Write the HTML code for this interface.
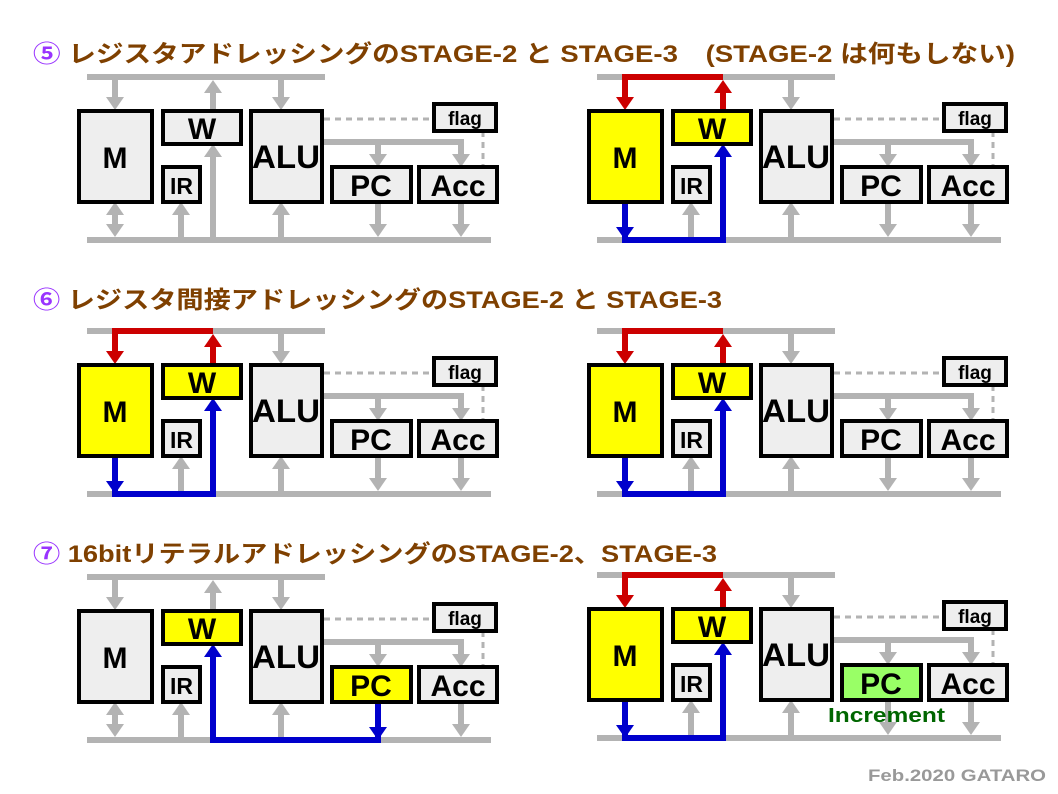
<!DOCTYPE html>
<html><head><meta charset="utf-8"><style>
html,body{margin:0;padding:0;background:#fff}
svg{display:block}
text{font-family:"Liberation Sans","Noto Sans CJK JP",sans-serif;font-weight:bold}
</style></head><body>
<svg width="1058" height="794" viewBox="0 0 1058 794" xmlns="http://www.w3.org/2000/svg">
<defs>
<g id="base">
  <rect x="87" y="74" width="238" height="6" fill="#b3b3b3"/>
  <rect x="87" y="237" width="404" height="6" fill="#b3b3b3"/>
  <g stroke="#b3b3b3" stroke-width="6" fill="none">
    <line x1="281" y1="80" x2="281" y2="99"/>
    <line x1="281" y1="237" x2="281" y2="213"/>
    <line x1="181" y1="237" x2="181" y2="213"/>
    <path d="M322 142 H461 V156"/>
    <line x1="378" y1="142" x2="378" y2="156"/>
    <line x1="461" y1="202" x2="461" y2="226"/>
  </g>
  <g fill="#b3b3b3">
    <polygon points="272,97 290,97 281,110"/>
    <polygon points="272,215 290,215 281,202"/>
    <polygon points="172,215 190,215 181,202"/>
    <polygon points="369,154 387,154 378,167"/>
    <polygon points="452,154 470,154 461,167"/>
    <polygon points="452,224 470,224 461,237"/>
  </g>
  <g stroke="#b3b3b3" stroke-width="3" stroke-dasharray="6,5">
    <line x1="324" y1="119" x2="433" y2="119"/>
    <line x1="483" y1="131" x2="483" y2="167"/>
  </g>
  <g stroke="#000" stroke-width="4" fill="#eeeeee">
    <rect x="251" y="111" width="71" height="91"/>
    <rect x="163" y="167" width="37" height="35"/>
    <rect x="434" y="104" width="62" height="27"/>
    <rect x="419" y="167" width="78" height="35"/>
  </g>
  <text x="286" y="168" font-size="32" text-anchor="middle" textLength="68" lengthAdjust="spacingAndGlyphs">ALU</text>
  <text x="181.5" y="194" font-size="23" text-anchor="middle">IR</text>
  <text x="465" y="125" font-size="19" text-anchor="middle">flag</text>
  <text x="458" y="196" font-size="30" text-anchor="middle">Acc</text>
</g>
<g id="grayM">
  <g stroke="#b3b3b3" stroke-width="6"><line x1="115" y1="80" x2="115" y2="99"/><line x1="115" y1="212" x2="115" y2="227"/></g>
  <g fill="#b3b3b3"><polygon points="106,97 124,97 115,110"/><polygon points="106,215 124,215 115,202"/><polygon points="106,224 124,224 115,237"/></g>
</g>
<g id="grayWtop">
  <line x1="213" y1="110" x2="213" y2="91" stroke="#b3b3b3" stroke-width="6"/>
  <polygon points="204,93 222,93 213,80" fill="#b3b3b3"/>
</g>
<g id="grayPCdown">
  <line x1="378" y1="202" x2="378" y2="226" stroke="#b3b3b3" stroke-width="6"/>
  <polygon points="369,224 387,224 378,237" fill="#b3b3b3"/>
</g>
<g id="redTop">
  <path d="M213 77 H115 V99" stroke="#cc0000" stroke-width="6" fill="none"/>
  <polygon points="106,97 124,97 115,110" fill="#cc0000"/>
  <line x1="213" y1="110" x2="213" y2="91" stroke="#cc0000" stroke-width="6"/>
  <polygon points="204,93 222,93 213,80" fill="#cc0000"/>
</g>
<g id="blueMW">
  <path d="M115 202 V240 H213 V155" stroke="#0000cc" stroke-width="6" fill="none"/>
  <polygon points="106,227 124,227 115,240" fill="#0000cc"/>
  <polygon points="204,157 222,157 213,144" fill="#0000cc"/>
</g>
</defs>

<!-- Titles -->
<text x="33" y="62" font-size="24" textLength="982" lengthAdjust="spacingAndGlyphs"><tspan fill="#9933ff">⑤</tspan><tspan fill="#7f4000"> レジスタアドレッシングのSTAGE-2 と STAGE-3　(STAGE-2 は何もしない)</tspan></text>
<text x="33" y="308" font-size="24" textLength="689" lengthAdjust="spacingAndGlyphs"><tspan fill="#9933ff">⑥</tspan><tspan fill="#7f4000"> レジスタ間接アドレッシングのSTAGE-2 と STAGE-3</tspan></text>
<text x="33" y="562" font-size="24" textLength="684" lengthAdjust="spacingAndGlyphs"><tspan fill="#9933ff">⑦</tspan><tspan fill="#7f4000"> 16bitリテラルアドレッシングのSTAGE-2、STAGE-3</tspan></text>

<!-- Row1 left -->
<g transform="translate(0,0)">
  <use href="#base"/><use href="#grayM"/><use href="#grayWtop"/><use href="#grayPCdown"/>
  <line x1="213" y1="237" x2="213" y2="155" stroke="#b3b3b3" stroke-width="6"/>
  <polygon points="204,157 222,157 213,144" fill="#b3b3b3"/>
  <g stroke="#000" stroke-width="4" fill="#eeeeee">
    <rect x="79" y="111" width="73" height="91"/><rect x="163" y="111" width="78" height="33"/><rect x="332" y="167" width="79" height="35"/>
  </g>
  <text x="115" y="168" font-size="30" text-anchor="middle">M</text>
  <text x="202" y="139" font-size="30" text-anchor="middle">W</text>
  <text x="371" y="196" font-size="30" text-anchor="middle">PC</text>
</g>

<g id="rw" transform="translate(510,0)">
  <use href="#base"/><use href="#redTop"/><use href="#blueMW"/><use href="#grayPCdown"/>
  <g stroke="#000" stroke-width="4">
    <rect x="79" y="111" width="73" height="91" fill="#ffff00"/><rect x="163" y="111" width="78" height="33" fill="#ffff00"/><rect x="332" y="167" width="79" height="35" fill="#eeeeee"/>
  </g>
  <text x="115" y="168" font-size="30" text-anchor="middle">M</text>
  <text x="202" y="139" font-size="30" text-anchor="middle">W</text>
  <text x="371" y="196" font-size="30" text-anchor="middle">PC</text>
</g>
<use href="#rw" transform="translate(-510,254)"/>
<use href="#rw" transform="translate(0,254)"/>

<!-- Row3 left -->
<g transform="translate(0,500)">
  <use href="#base"/><use href="#grayM"/><use href="#grayWtop"/>
  <path d="M378 202 V240 H213 V155" stroke="#0000cc" stroke-width="6" fill="none"/>
  <polygon points="369,227 387,227 378,240" fill="#0000cc"/>
  <polygon points="204,157 222,157 213,144" fill="#0000cc"/>
  <g stroke="#000" stroke-width="4">
    <rect x="79" y="111" width="73" height="91" fill="#eeeeee"/><rect x="163" y="111" width="78" height="33" fill="#ffff00"/><rect x="332" y="167" width="79" height="35" fill="#ffff00"/>
  </g>
  <text x="115" y="168" font-size="30" text-anchor="middle">M</text>
  <text x="202" y="139" font-size="30" text-anchor="middle">W</text>
  <text x="371" y="196" font-size="30" text-anchor="middle">PC</text>
</g>

<!-- Row3 right -->
<g transform="translate(510,498)">
  <use href="#base"/><use href="#redTop"/><use href="#blueMW"/><use href="#grayPCdown"/>
  <g stroke="#000" stroke-width="4">
    <rect x="79" y="111" width="73" height="91" fill="#ffff00"/><rect x="163" y="111" width="78" height="33" fill="#ffff00"/><rect x="332" y="167" width="79" height="35" fill="#99ff66"/>
  </g>
  <text x="115" y="168" font-size="30" text-anchor="middle">M</text>
  <text x="202" y="139" font-size="30" text-anchor="middle">W</text>
  <text x="371" y="196" font-size="30" text-anchor="middle">PC</text>
  <text x="318" y="224" font-size="20" fill="#006600" textLength="117" lengthAdjust="spacingAndGlyphs">Increment</text>
</g>

<text x="868" y="781" font-size="17" fill="#999999" textLength="178" lengthAdjust="spacingAndGlyphs">Feb.2020 GATARO</text>
</svg>
</body></html>
